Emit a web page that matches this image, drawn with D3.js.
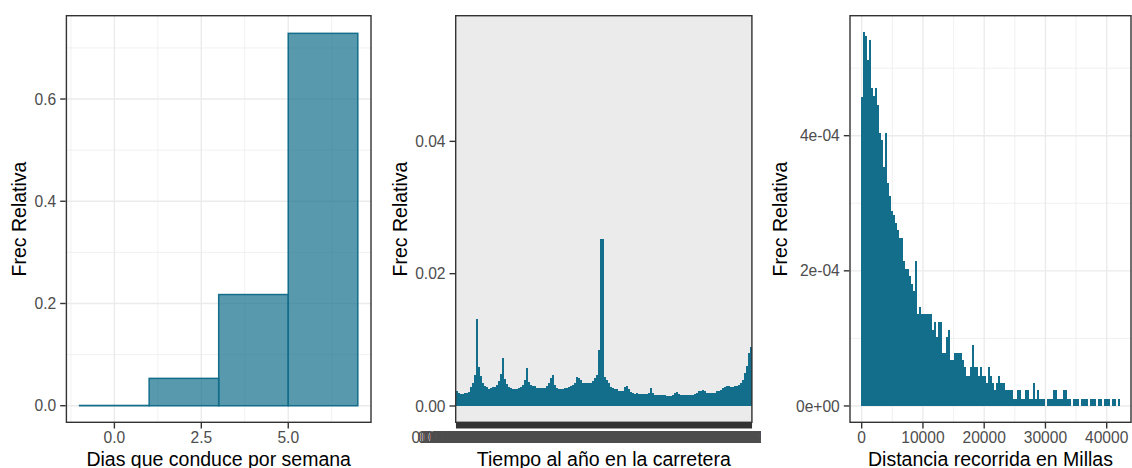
<!DOCTYPE html>
<html><head><meta charset="utf-8">
<script src="https://cdn.jsdelivr.net/npm/d3@7"></script>
<style>body{margin:0;background:#fff}svg{display:block}</style>
</head><body>
<svg id="chart" width="1132" height="468"></svg>
<script>
// ---------- data ----------
// Panel 1: Dias que conduce por semana (bins of width 2)
const diasBinInicio = [-1, 1, 3, 5];
const diasBinFin = [1, 3, 5, 7];
const diasFrec = [0.0005, 0.0535, 0.2175, 0.7285];
const diasXTicks = [0, 2.5, 5];
const diasXTickLabels = ["0.0", "2.5", "5.0"];
const diasYTicks = [0, 0.2, 0.4, 0.6];
const diasYTickLabels = ["0.0", "0.2", "0.4", "0.6"];

// Panel 2: Tiempo al año en la carretera (relative frequency, in thousandths)
const tiempoFrecMilesimas = [
  2.31,1.92,1.82,1.82,1.92,1.92,2.17,2.83,3.43,4.69,
  13.1,5.9,4.5,3.43,3.03,2.83,2.52,2.67,2.83,2.83,
  3.18,3.83,4.79,7.2,4.08,3.33,2.83,2.67,2.52,2.52,
  2.52,2.67,2.83,3.18,3.93,5.7,3.68,3.18,3.03,3.03,
  2.67,2.67,2.67,2.67,2.67,3.0,3.5,4.2,4.69,3.18,
  2.67,2.52,2.52,2.52,2.67,2.75,2.83,3.03,3.2,3.43,
  4.34,4.2,3.93,3.53,3.43,3.43,3.43,3.5,3.83,4.3,
  4.69,8.5,25.2,25.2,4.43,3.93,3.5,2.9,2.67,2.6,
  2.52,2.31,2.31,2.31,2.9,3.03,2.6,2.17,2.0,1.82,
  1.9,1.85,1.82,1.82,1.82,1.82,2.0,2.67,1.9,1.7,
  1.6,1.6,1.6,1.6,1.6,1.48,1.48,1.5,1.6,1.9,
  2.17,1.82,1.66,1.63,1.6,1.66,1.66,1.66,1.66,1.8,
  1.92,2.2,2.31,2.4,2.2,2.0,2.0,2.0,2.0,2.0,
  2.2,2.31,2.4,2.67,2.9,3.03,3.0,2.9,2.9,2.95,
  3.03,3.18,3.5,4.0,5.0,6.0,8.0,8.9
];
// category levels: fraction of the year
const tiempoNiveles = tiempoFrecMilesimas.map((_, i) => String(+((i + 1) / tiempoFrecMilesimas.length).toPrecision(7)));
const tiempoYTicks = [0, 0.02, 0.04];
const tiempoYTickLabels = ["0.00", "0.02", "0.04"];

// Panel 3: Distancia recorrida en Millas (density, in units of 1e-4)
const distanciaAnchoBin = 330.7;
const distanciaFrecE4 = [
  4.57,5.53,5.47,5.12,5.42,4.70,4.58,4.70,4.46,4.04,
  3.93,3.54,4.04,3.30,3.10,2.89,2.83,2.71,2.60,2.49,
  2.49,2.15,2.03,2.03,1.92,1.81,1.70,2.15,1.36,1.47,
  1.36,1.36,1.36,1.36,1.36,1.13,1.24,1.02,1.24,1.24,
  0.79,0.79,1.02,1.13,0.68,0.68,0.79,0.79,0.79,0.79,
  0.68,0.57,0.45,0.45,0.57,0.90,0.57,0.57,0.45,0.57,
  0.45,0.45,0.34,0.57,0.45,0.34,0.23,0.34,0.45,0.34,
  0.34,0.23,0.23,0.23,0.23,0.11,0.11,0.23,0.23,0.11,
  0.11,0.23,0.23,0.11,0.11,0.34,0.11,0.23,0.11,0.11,
  0.11,0,0.11,0.11,0.11,0.23,0.23,0.11,0.11,0.11,
  0.23,0.23,0.11,0.11,0,0.11,0.11,0.11,0,0.11,
  0.11,0.11,0,0.11,0.11,0.11,0,0.11,0.11,0,
  0.11,0.11,0.11,0,0.11,0.11,0,0.11
];
const distXTicks = [0, 10000, 20000, 30000, 40000];
const distXTickLabels = ["0", "10000", "20000", "30000", "40000"];
const distYTicks = [0, 2e-4, 4e-4];
const distYTickLabels = ["0e+00", "2e-04", "4e-04"];

const tituloY = "Frec Relativa";

// ---------- styles ----------
const FONT = "'Liberation Sans', Arial, Helvetica, sans-serif";
const BORDER = "#333333", TICKC = "#333333", LABELC = "#4D4D4D", GRID = "#EBEBEB", BAR = "#126E8A";
const TICK_FS = 15.6, TITLE_FS = 19.5, TICK_LEN = 5.5;

const svg = d3.select("#chart");
svg.append("rect").attr("width", 1132).attr("height", 468).attr("fill", "#fff");

function gridLines(g, x, y, xMajor, xMinor, yMajor, yMinor, box) {
  const gg = g.append("g");
  xMinor.forEach(v => gg.append("line").attr("x1", x(v)).attr("x2", x(v)).attr("y1", box.top).attr("y2", box.bottom).attr("stroke", GRID).attr("stroke-width", 0.7));
  yMinor.forEach(v => gg.append("line").attr("y1", y(v)).attr("y2", y(v)).attr("x1", box.left).attr("x2", box.right).attr("stroke", GRID).attr("stroke-width", 0.7));
  xMajor.forEach(v => gg.append("line").attr("x1", x(v)).attr("x2", x(v)).attr("y1", box.top).attr("y2", box.bottom).attr("stroke", GRID).attr("stroke-width", 1.4));
  yMajor.forEach(v => gg.append("line").attr("y1", y(v)).attr("y2", y(v)).attr("x1", box.left).attr("x2", box.right).attr("stroke", GRID).attr("stroke-width", 1.4));
}

function border(g, box) {
  g.append("rect").attr("x", box.left + 0.7).attr("y", box.top + 0.7)
    .attr("width", box.right - box.left - 1.4).attr("height", box.bottom - box.top - 1.4)
    .attr("fill", "none").attr("stroke", BORDER).attr("stroke-width", 1.4);
}

function yAxis(g, y, ticks, labels, box) {
  ticks.forEach((v, i) => {
    g.append("line").attr("x1", box.left - TICK_LEN).attr("x2", box.left).attr("y1", y(v)).attr("y2", y(v))
      .attr("stroke", TICKC).attr("stroke-width", 1.4);
    g.append("text").attr("x", box.left - TICK_LEN - 4).attr("y", y(v)).attr("dy", "0.36em")
      .attr("text-anchor", "end").attr("font-family", FONT).attr("font-size", TICK_FS)
      .attr("fill", LABELC).text(labels[i]);
  });
}

function xAxis(g, xpos, ticks, labels, box, tw) {
  ticks.forEach((v, i) => {
    g.append("line").attr("x1", xpos(v)).attr("x2", xpos(v)).attr("y1", box.bottom).attr("y2", box.bottom + TICK_LEN)
      .attr("stroke", TICKC).attr("stroke-width", tw || 1.4);
  });
  ticks.forEach((v, i) => {
    g.append("text").attr("x", xpos(v)).attr("y", 443.2)
      .attr("text-anchor", "middle").attr("font-family", FONT).attr("font-size", TICK_FS)
      .attr("fill", LABELC).text(labels[i]);
  });
}

function titles(g, box, xTitle, yX) {
  g.append("text").attr("x", (box.left + box.right) / 2).attr("y", 466)
    .attr("text-anchor", "middle").attr("font-family", FONT).attr("font-size", TITLE_FS)
    .attr("fill", "#000").text(xTitle);
  g.append("text").attr("transform", `translate(${yX},${(box.top + box.bottom) / 2}) rotate(-90)`)
    .attr("text-anchor", "middle").attr("font-family", FONT).attr("font-size", TITLE_FS)
    .attr("fill", "#000").text(tituloY);
}

// ---------- Panel 1 ----------
{
  const g = svg.append("g");
  g.append("rect").attr("x", 0).attr("y", 0).attr("width", 381).attr("height", 468).attr("fill", "#fff");
  const box = {left: 65.7, right: 371.7, top: 15, bottom: 423};
  const x = d3.scaleLinear().domain([-1.4, 7.4]).range([box.left, box.right]);
  const y = d3.scaleLinear().domain([-0.0338, 0.7644]).range([box.bottom, box.top]);
  g.append("rect").attr("x", box.left).attr("y", box.top).attr("width", box.right - box.left).attr("height", box.bottom - box.top).attr("fill", "#fff");
  gridLines(g, x, y, diasXTicks, [-1.25, 1.25, 3.75, 6.25], diasYTicks, [0.1, 0.3, 0.5, 0.7], box);
  g.append("g").selectAll("rect").data(diasFrec).join("rect")
    .attr("x", (d, i) => x(diasBinInicio[i]))
    .attr("width", (d, i) => x(diasBinFin[i]) - x(diasBinInicio[i]))
    .attr("y", d => y(d)).attr("height", d => y(0) - y(d))
    .attr("fill", BAR).attr("fill-opacity", 0.7)
    .attr("stroke", BAR).attr("stroke-width", 1.5);
  border(g, box);
  yAxis(g, y, diasYTicks, diasYTickLabels, box);
  xAxis(g, x, diasXTicks, diasXTickLabels, box);
  titles(g, box, "Dias que conduce por semana", 26);
}

// ---------- Panel 2 ----------
{
  const g = svg.append("g");
  const box = {left: 455, right: 752.6, top: 15, bottom: 423};
  const x = d3.scaleBand().domain(tiempoNiveles).range([456, 752]).padding(0);
  const y = d3.scaleLinear().domain([-0.00257, 0.0591]).range([box.bottom, box.top]);
  g.append("rect").attr("x", box.left).attr("y", box.top).attr("width", box.right - box.left).attr("height", box.bottom - box.top).attr("fill", "#EBEBEB");
  g.append("g").selectAll("rect").data(tiempoFrecMilesimas).join("rect")
    .attr("x", (d, i) => x(tiempoNiveles[i]))
    .attr("width", x.bandwidth())
    .attr("y", d => y(d / 1000)).attr("height", d => y(0) - y(d / 1000))
    .attr("fill", BAR).attr("shape-rendering", "crispEdges");
  border(g, box);
  yAxis(g, y, tiempoYTicks, tiempoYTickLabels, box);
  xAxis(g, v => x(v) + x.bandwidth() / 2, tiempoNiveles, tiempoNiveles, box, x.bandwidth() + 0.1);
  titles(g, box, "Tiempo al año en la carretera", 406.7);
}

// ---------- Panel 3 ----------
{
  const g = svg.append("g");
  g.append("rect").attr("x", 761).attr("y", 0).attr("width", 371).attr("height", 468).attr("fill", "#fff");
  const box = {left: 849.3, right: 1131.7, top: 15, bottom: 423};
  const x = d3.scaleLinear().domain([-2024, 44081]).range([box.left, box.right]);
  const y = d3.scaleLinear().domain([-2.52e-5, 5.786e-4]).range([box.bottom, box.top]);
  g.append("rect").attr("x", box.left).attr("y", box.top).attr("width", box.right - box.left).attr("height", box.bottom - box.top).attr("fill", "#fff");
  gridLines(g, x, y, distXTicks, [5000, 15000, 25000, 35000], distYTicks, [1e-4, 3e-4, 5e-4], box);
  g.append("g").selectAll("rect").data(distanciaFrecE4).join("rect")
    .attr("x", (d, i) => x(i * distanciaAnchoBin - distanciaAnchoBin / 2))
    .attr("width", x(distanciaAnchoBin) - x(0))
    .attr("y", d => y(d * 1e-4)).attr("height", d => y(0) - y(d * 1e-4))
    .attr("fill", BAR).attr("shape-rendering", "crispEdges");
  border(g, box);
  yAxis(g, y, distYTicks, distYTickLabels, box);
  xAxis(g, x, distXTicks, distXTickLabels, box);
  titles(g, box, "Distancia recorrida en Millas", 786.7);
}
</script>
</body></html>
